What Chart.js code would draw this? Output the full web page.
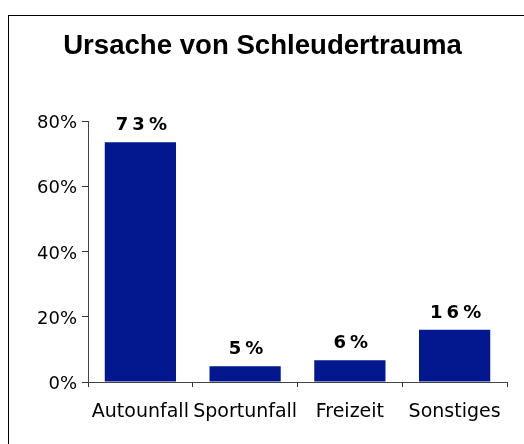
<!DOCTYPE html>
<html>
<head>
<meta charset="utf-8">
<script src="https://cdn.jsdelivr.net/npm/chart.js@4/dist/chart.umd.min.js"></script>
<style>
html,body{margin:0;padding:0;background:#fff;}
#wrap{width:524px;height:444px;position:relative;}
</style>
</head>
<body>
<div id="wrap"><canvas id="c" width="524" height="444"></canvas></div>
<script>
const titleText = 'Ursache von Schleudertrauma';
const categories = ['Autounfall', 'Sportunfall', 'Freizeit', 'Sonstiges'];
const values = [73.5, 4.8, 6.7, 16];
const valueLabels = ['73%', '5%', '6%', '16%'];
const yTicks = [0, 20, 40, 60, 80];

const frame = {
  id: 'frame',
  beforeDraw(chart) {
    const ctx = chart.ctx;
    ctx.save();
    ctx.fillStyle = '#fff';
    ctx.fillRect(0, 0, chart.width, chart.height);
    ctx.strokeStyle = '#000';
    ctx.lineWidth = 1;
    ctx.strokeRect(8.5, 15.5, 700, 700);
    ctx.restore();
  },
  afterDraw(chart) {
    const ctx = chart.ctx;
    ctx.save();
    ctx.font = 'bold 27.6px "Liberation Sans", Arial, sans-serif';
    ctx.fillStyle = '#000';
    ctx.textAlign = 'center';
    ctx.textBaseline = 'alphabetic';
    ctx.fillText(titleText, 262.5, 54);
    ctx.restore();
  }
};

const dataLabels = {
  id: 'dataLabels',
  afterDatasetsDraw(chart) {
    const ctx = chart.ctx;
    const meta = chart.getDatasetMeta(0);
    ctx.save();
    ctx.font = 'bold 18px "DejaVu Sans"';
    ctx.fillStyle = '#000';
    ctx.textAlign = 'center';
    ctx.textBaseline = 'alphabetic';
    if ('letterSpacing' in ctx) ctx.letterSpacing = '4px';
    meta.data.forEach((bar, i) => {
      ctx.fillText(valueLabels[i], bar.x + 3, bar.y - 12);
    });
    ctx.restore();
  }
};

new Chart(document.getElementById('c'), {
  type: 'bar',
  data: {
    labels: categories,
    datasets: [{
      data: values,
      backgroundColor: '#03178E',
      borderWidth: 0,
      barPercentage: 0.68,
      categoryPercentage: 1
    }]
  },
  options: {
    responsive: false,
    animation: false,
    events: [],
    layout: { padding: { left: 0, right: 17, top: 121, bottom: 0 } },
    plugins: {
      legend: { display: false },
      tooltip: { enabled: false },
      title: { display: false }
    },
    scales: {
      x: {
        grid: { display: true, drawOnChartArea: false, offset: true, color: '#333', tickLength: 5, tickWidth: 1 },
        border: { display: true, color: '#444', width: 1 },
        ticks: { color: '#000', font: { family: '"DejaVu Sans", sans-serif', size: 19 }, padding: 14, maxRotation: 0, autoSkip: false },
        afterFit(scale) { scale.height = 62; }
      },
      y: {
        min: 0,
        max: 80,
        afterBuildTicks(scale) { scale.ticks = yTicks.map(v => ({ value: v })); },
        grid: { display: true, drawOnChartArea: false, color: '#333', tickLength: 6 },
        border: { display: true, color: '#444', width: 1 },
        ticks: {
          color: '#000',
          font: { family: '"DejaVu Sans", sans-serif', size: 18 },
          padding: 5,
          labelOffset: 2.5,
          callback: v => v + '%'
        },
        afterFit(scale) { scale.width = 88; }
      }
    }
  },
  plugins: [frame, dataLabels]
});
</script>
</body>
</html>
